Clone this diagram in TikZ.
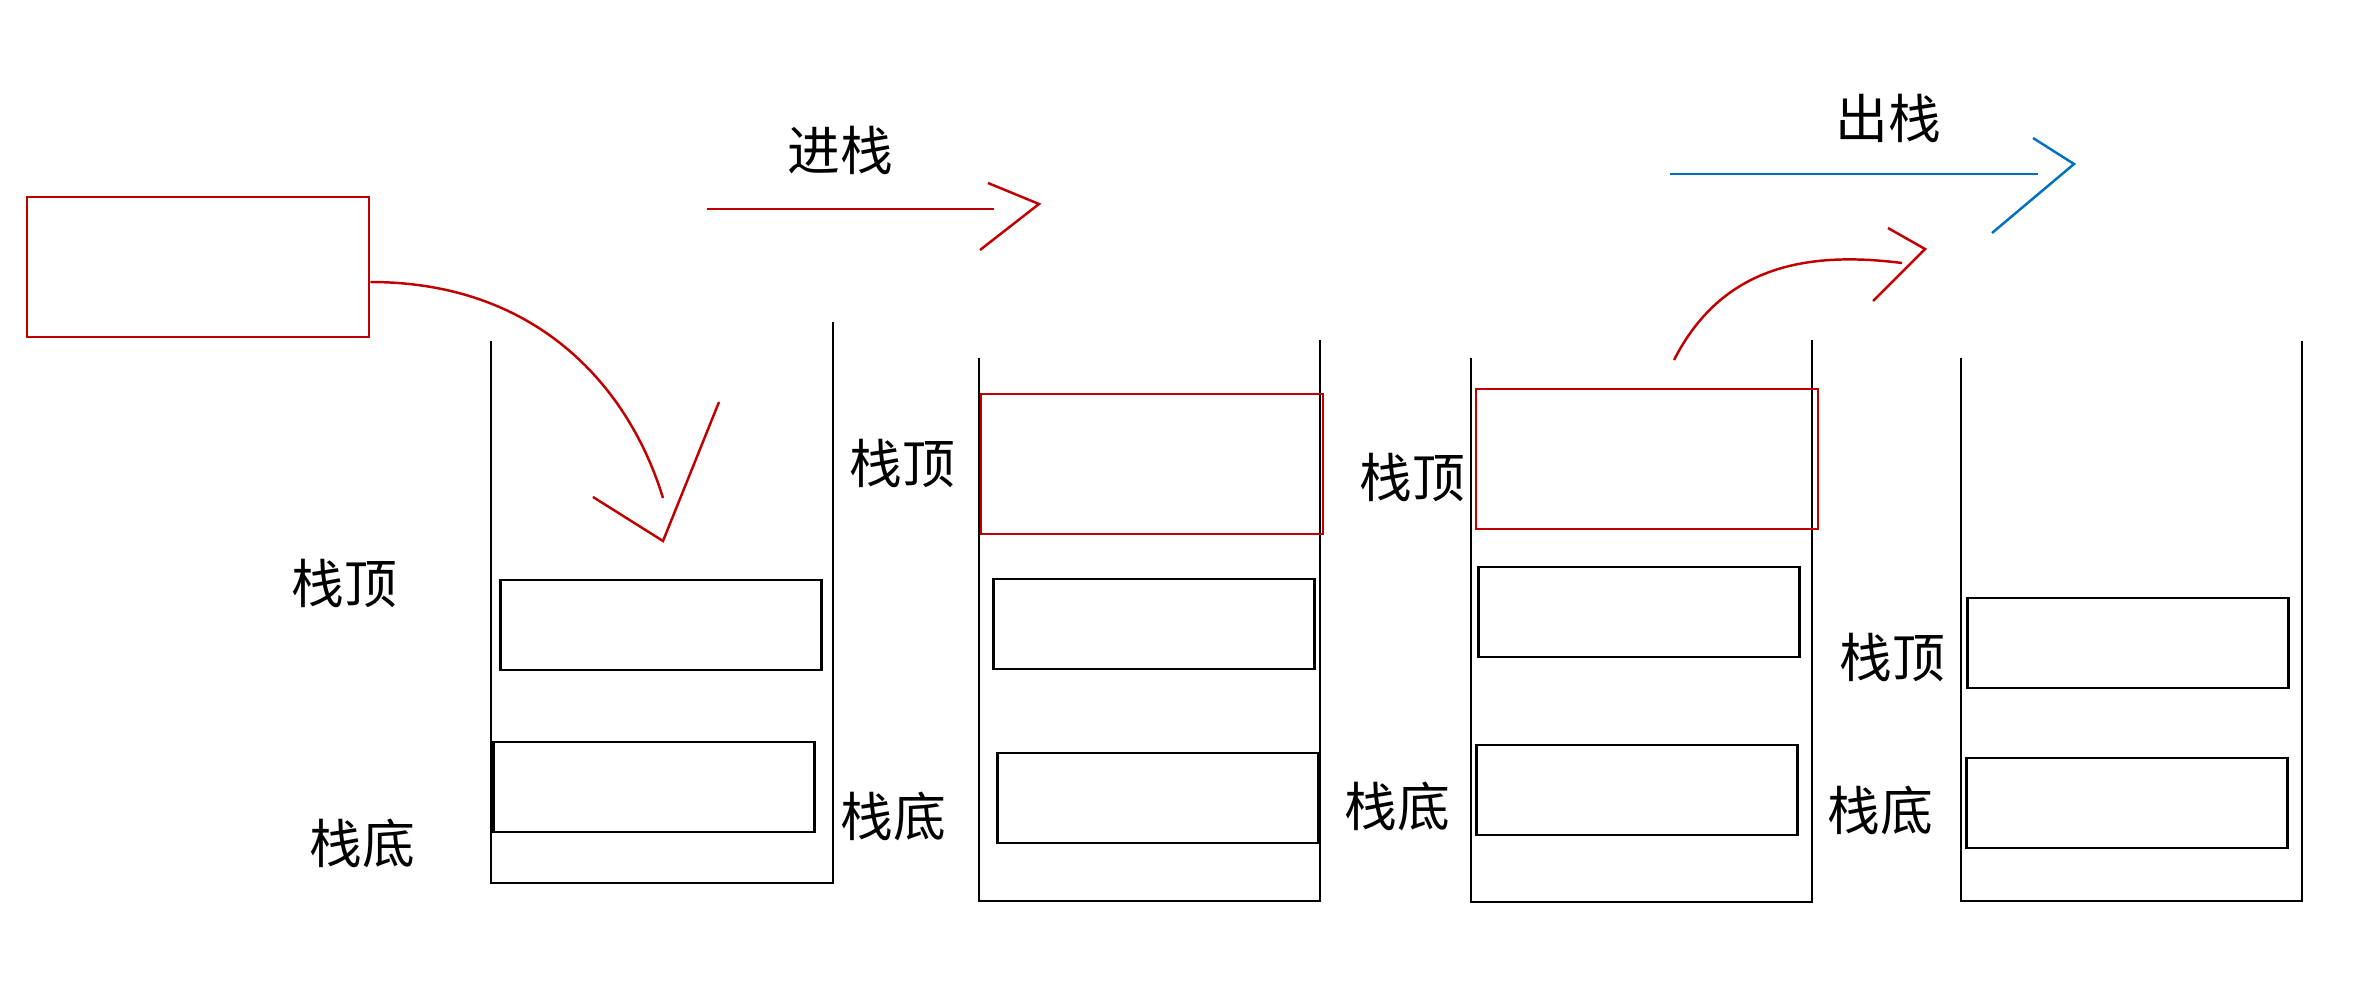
\documentclass[tikz,border=0pt]{standalone}
\usepackage{fontspec}
\newfontfamily\cjk{Noto Sans CJK SC}
\usetikzlibrary{positioning,calc}
\definecolor{darkred}{RGB}{192,0,0}
\definecolor{popblue}{RGB}{0,112,192}

\begin{document}
\begin{tikzpicture}[x=0.01cm,y=-0.01cm,font=\cjk\fontsize{15}{18}\selectfont,
  cell/.style={draw=black,line width=0.8pt,minimum width=3.21cm,minimum height=0.9cm,inner sep=0pt},
  hot/.style={draw=darkred,line width=0.7pt,minimum width=3.42cm,minimum height=1.4cm,inner sep=0pt},
  wall/.style={draw=black,line width=0.6pt},
  ar/.style={line width=0.7pt,line join=miter},
  lb/.style={inner sep=1pt}]
  \useasboundingbox (0,0) rectangle (2379,1000);
  % stacks
  \draw[wall] (491,341) -- (491,883) -- (833,883) -- (833,322);
  \draw[wall] (979,358) -- (979,901) -- (1320,901) -- (1320,340);
  \draw[wall] (1471,358) -- (1471,902) -- (1812,902) -- (1812,340);
  \draw[wall] (1961,358) -- (1961,901) -- (2302,901) -- (2302,341);
  % cells
  \node[hot] (inbox) at (198,267) {};
  \node[cell] (aup) at (661,625) {};
  \node[cell] (alow) at (654,787) {};
  \node[hot] (btop) at (1152,464) {};
  \node[cell] (bup) at (1154,624) {};
  \node[cell] (blow) at (1158,798) {};
  \node[hot] (ctop) at (1647,459) {};
  \node[cell] (cup) at (1639,612) {};
  \node[cell] (clow) at (1637,790) {};
  \node[cell] (dup) at (2128,643) {};
  \node[cell] (dlow) at (2127,803) {};
  % labels
  \node[lb] (atop) at (344,584) {栈顶};
  \node[lb] (abot) at (362,843) {栈底};
  \node[lb] (btopl) at (902,463) {栈顶};
  \node[lb] (bbot) at (893,816) {栈底};
  \node[lb] (ctopl) at (1412,478) {栈顶};
  \node[lb] (cbot) at (1397,806) {栈底};
  \node[lb] (dtop) at (1892,657) {栈顶};
  \node[lb] (dbot) at (1880,810) {栈底};
  \node[lb] (push) at (840,150) {进栈};
  \node[lb] (pop) at (1888,118) {出栈};
  % arrows
  \coordinate (pe) at (663,498);
  \draw[ar,darkred] ([yshift=-0.15cm]inbox.east) .. controls (540,282) and (630,390) .. (pe);
  \draw[ar,darkred] (593,497) -- (663,541) -- (719,402);
  \coordinate (ps) at (707,209);
  \coordinate (pt) at (994,209);
  \draw[ar,darkred] (ps) -- (pt);
  \draw[ar,darkred] (988,183) -- (1039,204) -- (980,250);
  \coordinate (os) at (1674,360);
  \coordinate (oe) at (1902,263);
  \draw[ar,darkred] (os) .. controls (1720,270) and (1800,250) .. (oe);
  \draw[ar,darkred] (1888,228) -- (1925,249) -- (1873,301);
  \coordinate (bs) at (1670,174);
  \coordinate (be) at (2038,174);
  \draw[ar,popblue] (bs) -- (be);
  \draw[ar,popblue] (2033,138) -- (2074,164) -- (1992,233);
\end{tikzpicture}
\end{document}
